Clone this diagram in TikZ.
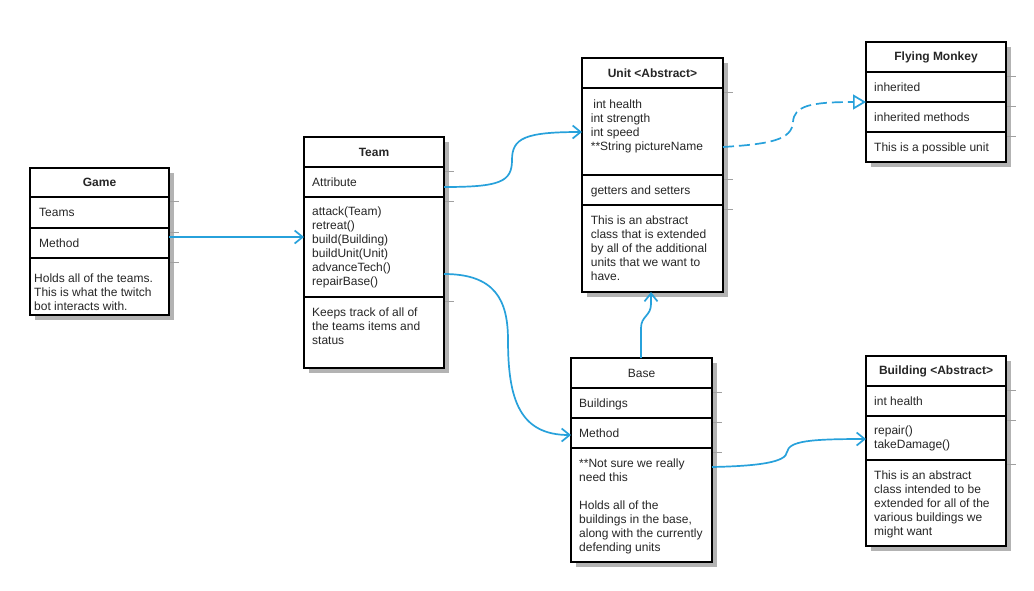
\documentclass[tikz,border=0pt]{standalone}
\usepackage{fontspec}
\setmainfont{Liberation Sans}
\usetikzlibrary{arrows.meta}

\definecolor{link}{HTML}{27A1DB}
\definecolor{shadowgray}{HTML}{B3B3B3}
\definecolor{shadowtick}{HTML}{A0A0A0}
\newcommand\umlfont{\fontsize{12}{14}\selectfont}

% class frame: name, x1, y1, x2, y2, divider heights
\newcommand\umlclass[6]{%
  \fill[shadowgray] (#2+5,#3+5) rectangle (#4+5,#5+5);
  \foreach \d in {#6} {\draw[shadowtick, line width=0.6pt] (#4,\d+4.5) -- (#4+10,\d+4.5);}
  \node[classbox, minimum width=#4-#2, minimum height=#5-#3, anchor=north west] (#1) at (#2,#3) {};
  \foreach \d in {#6} {\draw[line width=1.8pt] (#2,\d) -- (#4,\d);}
}

\begin{document}
\begin{tikzpicture}[x=1pt,y=-1pt,
  classbox/.style={draw=black, fill=white, line width=1.8pt, inner sep=0pt, outer sep=0pt, rectangle},
  head/.style={anchor=center, inner sep=0pt, font=\umlfont\bfseries, text=black!85},
  plainhead/.style={anchor=center, inner sep=0pt, font=\umlfont, text=black!85},
  row/.style={anchor=west, inner sep=0pt, font=\umlfont, text height=8.6pt, text depth=0pt, text=black!85},
  body/.style={anchor=north west, inner sep=0pt, align=left, font=\umlfont, text=black!85},
  assoc/.style={draw=link, line width=1.7pt, -{Straight Barb[length=8pt,width=13pt]}},
  generalize/.style={draw=link, line width=1.7pt, dash pattern=on 11pt off 5pt,
    -{Triangle[open, length=13pt, width=15pt, fill=white]}}]

\fill[white] (0,0) rectangle (1034,590);
\useasboundingbox (0,0) rectangle (1034,590);

% ---- Game
\umlclass{game}{30}{168}{169}{315}{197,228,258}
\node[head] (gameH) at (99.5,182.5) {Game};
\node[row] (gameTeams) at (39,212.5) {Teams};
\node[row] (gameMethod) at (39,243) {Method};
\node[body] (gameNote) at (34,273.7) {Holds all of the teams.\\This is what the twitch\\bot interacts with.};

% ---- Team
\umlclass{team}{304}{137}{444}{368}{167,197,297}
\node[head] (teamH) at (374,152) {Team};
\node[row] (teamAttr) at (312,182) {Attribute};
\node[body] (teamOps) at (312,206.7) {attack(Team)\\retreat()\\build(Building)\\buildUnit(Unit)\\advanceTech()\\repairBase()};
\node[body] (teamNote) at (312,307.4) {Keeps track of all of\\the teams items and\\status};

% ---- Unit
\umlclass{unit}{582}{58}{723}{292}{88,175,205}
\node[head] (unitH) at (652.5,73.5) {Unit <Abstract>};
\node[body] (unitAttr) at (590.7,99.7) {\hspace*{2.5pt}int health\\int strength\\int speed\\**String pictureName};
\node[row] (unitOps) at (590.7,190) {getters and setters};
\node[body] (unitNote) at (590.7,215.7) {This is an abstract\\class that is extended\\by all of the additional\\units that we want to\\have.};

% ---- Flying Monkey
\umlclass{monkey}{866}{42}{1006}{162}{72,102,132}
\node[head] (monkeyH) at (936,57) {Flying Monkey};
\node[row] (monkeyAttr) at (874,87) {inherited};
\node[row] (monkeyOps) at (874,117) {inherited methods};
\node[row] (monkeyNote) at (874,147) {This is a possible unit};

% ---- Base
\umlclass{base}{571}{358}{712}{562}{388,418,448}
\node[plainhead] (baseH) at (641.5,373) {Base};
\node[row] (baseAttr) at (579,403) {Buildings};
\node[row] (baseOps) at (579,433) {Method};
\node[body] (baseNote) at (579,459) {**Not sure we really\\need this\\[14pt]Holds all of the\\buildings in the base,\\along with the currently\\defending units};

% ---- Building
\umlclass{building}{866}{356}{1006}{546}{386,416,460}
\node[head] (buildingH) at (936,371) {Building <Abstract>};
\node[row] (buildingAttr) at (874,401) {int health};
\node[body] (buildingOps) at (874,425.7) {repair()\\takeDamage()};
\node[body] (buildingNote) at (874,470.7) {This is an abstract\\class intended to be\\extended for all of the\\various buildings we\\might want};

% ---- attachment points
\coordinate (gameOut)    at ([shift={(0,69)}]game.north east);
\coordinate (teamInL)    at ([shift={(0,100)}]team.north west);
\coordinate (teamOutA)   at ([shift={(0,50)}]team.north east);
\coordinate (unitInL)    at ([shift={(0,74)}]unit.north west);
\coordinate (teamOutB)   at ([shift={(0,137)}]team.north east);
\coordinate (baseInL)    at ([shift={(0,77)}]base.north west);
\coordinate (baseTop)    at ([shift={(70,0)}]base.north west);
\coordinate (unitBot)    at ([shift={(69,0)}]unit.south west);
\coordinate (unitOutR)   at ([shift={(0,89)}]unit.north east);
\coordinate (monkeyIn)   at ([shift={(0,60)}]monkey.north west);
\coordinate (baseOutR)   at ([shift={(0,109)}]base.north east);
\coordinate (buildingIn) at ([shift={(0,83)}]building.north west);

% ---- connectors
\draw[assoc] (gameOut) -- (teamInL);
\draw[assoc] (teamOutA) .. controls (500,187) and (512,182) .. (512,160)
  .. controls (512,138) and (525,132) .. (unitInL);
\draw[assoc] (teamOutB) .. controls (495,274) and (508,300) .. (508,340)
  .. controls (508,400) and (520,435) .. (baseInL);
\draw[assoc] (baseTop) -- (641,328) .. controls (641,316) and (651,316) .. (651,304) -- (unitBot);
\draw[generalize] (unitOutR) .. controls (770,144) and (792,140) .. (793,122)
  .. controls (794,106) and (810,102) .. (monkeyIn);
\draw[assoc] (baseOutR) .. controls (760,466) and (786,462) .. (787,452)
  .. controls (789,441) and (810,439) .. (buildingIn);

\end{tikzpicture}
\end{document}
